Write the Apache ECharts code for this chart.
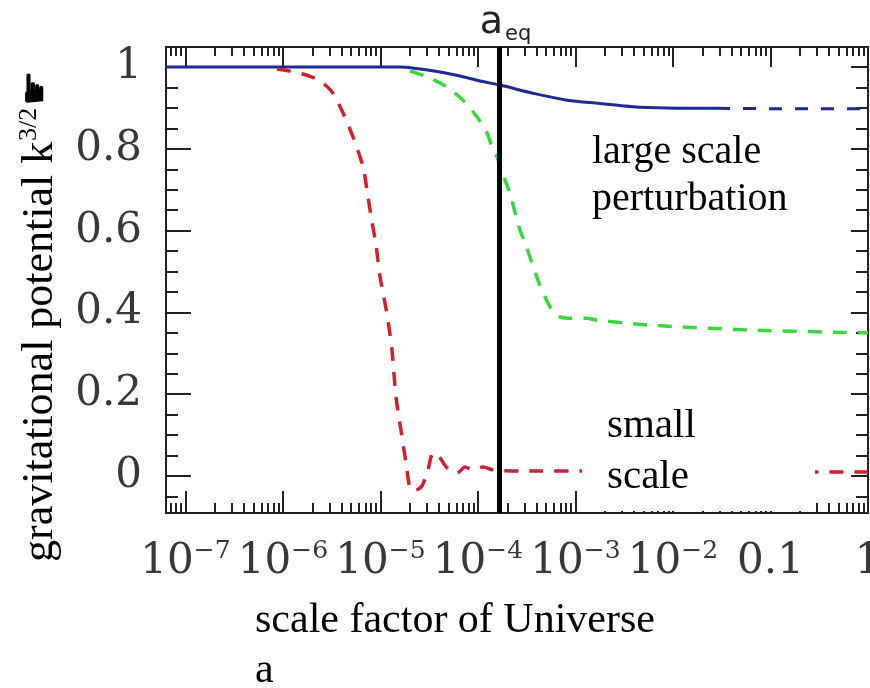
<!DOCTYPE html>
<html>
<head>
<meta charset="utf-8">
<script src="https://cdn.jsdelivr.net/npm/echarts@6/dist/echarts.min.js"></script>
<style>
  html, body { margin: 0; padding: 0; background: #fff; }
  #chart { width: 870px; height: 688px; }
</style>
</head>
<body>
<div id="chart"></div>
<script>
// Horizontal positions are log10 of the scale factor a.
const xMajor = [-7, -6, -5, -4, -3, -2, -1, 0];
const xTickBase = ['10', '10', '10', '10', '10', '10', '0.1', '1'];
const xTickSup = ['\u22127', '\u22126', '\u22125', '\u22124', '\u22123', '\u22122', '', ''];
const yMajor = [0, 0.2, 0.4, 0.6, 0.8, 1];
const yTickLabels = ['0', '0.2', '0.4', '0.6', '0.8', '1'];
const yMinor = [-0.05, 0.05, 0.1, 0.15, 0.25, 0.3, 0.35, 0.45, 0.5, 0.55, 0.65, 0.7, 0.75, 0.85, 0.9, 0.95];

// matter-radiation equality
const logAEq = -3.78;

// large scale mode (blue)
const blueLogA = [-7.2, -4.80, -4.595, -4.39, -4.185, -3.98, -3.774, -3.436, -3.087, -2.749, -2.41, -2.062, -1.549];
const bluePhi  = [1.0, 1.0, 0.995, 0.988, 0.978, 0.966, 0.956, 0.936, 0.919, 0.911, 0.903, 0.900, 0.899];
const blueTailLogA = [-1.549, -0.8, 0];
const blueTailPhi  = [0.899, 0.898, 0.898];

// small scale mode (red)
const redLogA = [-6.062, -5.928, -5.754, -5.621, -5.497, -5.385, -5.282, -5.179, -5.128, -5.087, -5.046, -5.005,
                 -4.954, -4.913, -4.882, -4.841, -4.790, -4.738, -4.687, -4.636, -4.574, -4.513, -4.462, -4.410,
                 -4.318, -4.215, -4.133, -4.051, -3.949, -3.846, -3.569, -2.749, -1.723, 0];
const redPhi  = [0.995, 0.990, 0.980, 0.966, 0.939, 0.888, 0.829, 0.756, 0.682, 0.621, 0.565, 0.487,
                 0.423, 0.364, 0.308, 0.193, 0.112, 0.032, -0.034, -0.034, -0.024, 0.015, 0.056, 0.051,
                 0.020, 0.007, 0.022, 0.015, 0.022, 0.015, 0.012, 0.012, 0.010, 0.010];

// intermediate mode (green)
const greenLogA = [-4.697, -4.667, -4.492, -4.318, -4.154, -4.010, -3.908, -3.846, -3.805, -3.723, -3.672, -3.621,
                   -3.569, -3.518, -3.446, -3.385, -3.313, -3.241, -3.159, -3.087, -2.882, -2.779, -2.236, -1.210, 0];
const greenPhi  = [0.990, 0.988, 0.973, 0.951, 0.919, 0.878, 0.839, 0.797, 0.780, 0.724, 0.692, 0.645,
                   0.601, 0.570, 0.521, 0.479, 0.438, 0.406, 0.389, 0.386, 0.386, 0.381, 0.369, 0.357, 0.350];

const xMin = -7.2, xMax = 0;
const yMin = -0.0905, yMax = 1.049;

// log-spaced minor ticks (2..9 within each decade)
const xMinor = [];
for (let n = -8; n < 0; n++) {
  for (let k = 2; k <= 9; k++) {
    const v = n + Math.log10(k);
    if (v > xMin && v < xMax) xMinor.push(v);
  }
}

const pairs = (xs, ys) => xs.map((x, i) => [x, ys[i]]);

const tickColor = '#222';
const serifNum = '"DejaVu Serif"';
const textSerif = '"Liberation Serif", "Times New Roman", serif';

function xAxisDef(position, ticks, len, withLabels, withLine) {
  return {
    type: 'value', min: xMin, max: xMax, position: position,
    axisLine: { show: withLine, onZero: false, lineStyle: { color: tickColor, width: 2 } },
    axisTick: { show: true, inside: true, length: len, customValues: ticks,
                lineStyle: { color: tickColor, width: 2 } },
    axisLabel: withLabels ? {
      show: true, customValues: xMajor, margin: 26, hideOverlap: false,
      formatter: function (v) {
        const i = xMajor.findIndex(m => Math.abs(m - v) < 1e-6);
        if (i < 0) return '';
        return xTickSup[i] ? '{b|' + xTickBase[i] + '}{s|' + xTickSup[i] + '}' : '{b|' + xTickBase[i] + '}';
      },
      rich: {
        b: { fontFamily: serifNum, fontSize: 42, color: '#383838', lineHeight: 46 },
        s: { fontFamily: serifNum, fontSize: 25, color: '#383838', lineHeight: 46, verticalAlign: 'top', padding: [0, 0, 16, 0] }
      }
    } : { show: false },
    splitLine: { show: false }
  };
}

function yAxisDef(position, ticks, len, withLabels, withLine) {
  return {
    type: 'value', min: yMin, max: yMax, position: position,
    axisLine: { show: withLine, onZero: false, lineStyle: { color: tickColor, width: 2 } },
    axisTick: { show: true, inside: true, length: len, customValues: ticks,
                lineStyle: { color: tickColor, width: 2 } },
    axisLabel: withLabels ? {
      show: true, customValues: yMajor, margin: 24,
      fontFamily: serifNum, fontSize: 42, color: '#383838',
      formatter: function (v) {
        const i = yMajor.findIndex(m => Math.abs(m - v) < 1e-6);
        return i < 0 ? '' : yTickLabels[i];
      }
    } : { show: false },
    splitLine: { show: false }
  };
}

const chart = echarts.init(document.getElementById('chart'), null, { renderer: 'canvas' });

chart.setOption({
  animation: false,
  backgroundColor: '#fff',
  grid: { left: 166, right: 2, top: 47, bottom: 175, containLabel: false, outerBoundsMode: 'none' },
  xAxis: [
    xAxisDef('bottom', xMajor, 22, true, true),
    xAxisDef('bottom', xMinor, 10, false, false),
    xAxisDef('top', xMajor, 20, false, true),
    xAxisDef('top', xMinor, 9, false, false)
  ],
  yAxis: [
    yAxisDef('left', yMajor, 25, true, true),
    yAxisDef('left', yMinor, 12, false, false),
    yAxisDef('right', yMajor, 17, false, true),
    yAxisDef('right', yMinor, 12, false, false)
  ],
  series: [
    {
      type: 'line', xAxisIndex: 0, yAxisIndex: 0, showSymbol: false, smooth: 0.3, z: 2,
      data: pairs(blueLogA, bluePhi),
      lineStyle: { color: '#1c2a96', width: 3 }
    },
    {
      type: 'line', xAxisIndex: 0, yAxisIndex: 0, showSymbol: false, z: 2,
      data: pairs(blueTailLogA, blueTailPhi),
      lineStyle: { color: '#1c2a96', width: 3, type: [13, 13] }
    },
    {
      type: 'line', xAxisIndex: 0, yAxisIndex: 0, showSymbol: false, smooth: 0.25, z: 3,
      data: pairs(redLogA, redPhi),
      lineStyle: { color: '#d0202c', width: 3.5, type: [14, 11] }
    },
    {
      type: 'line', xAxisIndex: 0, yAxisIndex: 0, showSymbol: false, smooth: 0.3, z: 4,
      data: pairs(greenLogA, greenPhi),
      lineStyle: { color: '#3ad83a', width: 3.5, type: [14, 11] }
    },
    {
      type: 'line', xAxisIndex: 0, yAxisIndex: 0, data: [], z: 10,
      markLine: {
        silent: true, symbol: 'none', animation: false,
        lineStyle: { color: '#000', width: 5, type: 'solid' },
        label: {
          show: true, position: 'end', distance: 2,
          formatter: '{a|\u00a0a}{e|eq}',
          rich: {
            a: { fontFamily: '"DejaVu Sans"', fontSize: 38, color: '#222', lineHeight: 44 },
            e: { fontFamily: '"DejaVu Sans"', fontSize: 21, color: '#222', lineHeight: 44, verticalAlign: 'bottom', padding: [16, 0, 0, 2] }
          }
        },
        data: [{ xAxis: logAEq }]
      }
    }
  ],
  graphic: [
    {
      // vertical axis title, reading bottom to top
      type: 'group', x: 40, y: 312, rotation: Math.PI / 2, z: 100,
      children: [
        {
          type: 'text', x: -250, y: 0, z: 100,
          style: {
            text: 'gravitational potential k',
            fontFamily: textSerif, fontSize: 44, fill: '#000',
            align: 'left', verticalAlign: 'middle'
          }
        },
        {
          type: 'text', x: 171, y: -11, z: 100,
          style: {
            text: '3/2',
            fontFamily: textSerif, fontSize: 26, fill: '#000',
            align: 'left', verticalAlign: 'middle'
          }
        },
        {
          type: 'text', x: 206, y: -2, z: 100,
          style: {
            text: '\u261B',
            fontFamily: '"DejaVu Sans"', fontSize: 40, fill: '#000',
            align: 'left', verticalAlign: 'middle'
          }
        }
      ]
    },
    {
      type: 'text', x: 255, y: 596, z: 100,
      style: {
        text: 'scale factor of Universe\na',
        fontFamily: textSerif, fontSize: 42, lineHeight: 50, fill: '#000',
        align: 'left', verticalAlign: 'top'
      }
    },
    {
      type: 'text', x: 592, y: 129, z: 100,
      style: {
        text: 'large scale\nperturbation',
        fontFamily: textSerif, fontSize: 40, lineHeight: 47, fill: '#000',
        align: 'left', verticalAlign: 'top'
      }
    },
    {
      type: 'rect', z: 99,
      shape: { x: 582, y: 405, width: 233, height: 106 },
      style: { fill: '#fff' }
    },
    {
      type: 'text', x: 607, y: 401, z: 100,
      style: {
        text: 'small\nscale',
        fontFamily: textSerif, fontSize: 41, lineHeight: 51, fill: '#000',
        align: 'left', verticalAlign: 'top'
      }
    }
  ]
});
</script>
</body>
</html>
